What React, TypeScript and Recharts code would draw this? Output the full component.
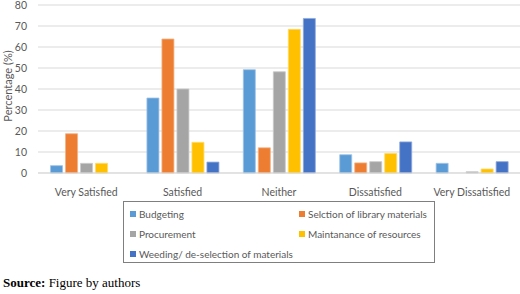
import React from 'react';
import { BarChart, Bar, XAxis, YAxis, CartesianGrid, Legend, Label } from 'recharts';

const categories = ['Very Satisfied', 'Satisfied', 'Neither', 'Dissatisfied', 'Very Dissatisfied'];
const budgeting = [3.5, 35.7, 49.2, 8.7, 4.6];
const selection = [18.7, 63.8, 12.0, 4.8, 0];
const procurement = [4.6, 40.0, 48.2, 5.4, 0.6];
const maintenance = [4.6, 14.6, 68.4, 9.3, 1.9];
const weeding = [0, 5.2, 73.6, 14.8, 5.4];
const yTicks = [0, 10, 20, 30, 40, 50, 60, 70, 80];

const series = [
  { key: 'budgeting', name: 'Budgeting', values: budgeting, color: '#5B9BD5', edge: '#9DC3E6' },
  { key: 'selection', name: 'Selction of library materials', values: selection, color: '#ED7D31', edge: '#F4B183' },
  { key: 'procurement', name: 'Procurement', values: procurement, color: '#A5A5A5', edge: '#C9C9C9' },
  { key: 'maintenance', name: 'Maintanance of resources', values: maintenance, color: '#FFC000', edge: '#FFD966' },
  { key: 'weeding', name: 'Weeding/ de-selection of materials', values: weeding, color: '#4472C4', edge: '#8FAADC' },
];

const data = categories.map((c, i) => {
  const row: Record<string, any> = { category: c };
  series.forEach((s) => { row[s.key] = s.values[i]; });
  return row;
});

const FONT = 'Lato, "Open Sans", sans-serif';

const YTick = (props: any) => {
  const { y, payload } = props;
  return (
    <text x={27} y={y} textAnchor="end" dominantBaseline="central" fontSize={10.5} fill="#595959" fontFamily={FONT}>
      {payload.value}
    </text>
  );
};

const XTick = (props: any) => {
  const { x, y, payload } = props;
  return (
    <text x={x} y={y + 11} textAnchor="middle" dominantBaseline="central" fontSize={10.5} fill="#595959" fontFamily={FONT}>
      {payload.value}
    </text>
  );
};

const LegendBox = () => (
  <div
    style={{
      boxSizing: 'border-box',
      width: '100%',
      height: '100%',
      border: '1px solid #7F7F7F',
      display: 'grid',
      gridTemplateColumns: '169px 1fr',
      gridAutoRows: '20px',
      padding: '2px 0 0 6px',
      fontFamily: FONT,
      fontSize: 10,
      color: '#595959',
      background: '#fff',
    }}
  >
    {series.map((s) => (
      <div key={s.key} style={{ display: 'flex', alignItems: 'center', whiteSpace: 'nowrap' }}>
        <span style={{ display: 'inline-block', width: 6, height: 6, background: s.color, marginRight: 3 }} />
        <span>{s.name}</span>
      </div>
    ))}
  </div>
);

export default function App() {
  return (
    <div style={{ position: 'absolute', left: 0, top: 0, width: 520, height: 294, background: '#fff', overflow: 'hidden' }}>
      <BarChart
        width={520}
        height={270}
        data={data}
        margin={{ top: 5, right: 0, bottom: 70, left: 0 }}
        barCategoryGap="13%"
        barGap={3}
      >
        <CartesianGrid vertical={false} stroke="#D9D9D9" />
        <XAxis
          dataKey="category"
          height={27}
          tickLine={false}
          axisLine={{ stroke: '#D9D9D9' }}
          tick={<XTick />}
          interval={0}
        />
        <YAxis
          width={38}
          domain={[0, 80]}
          ticks={yTicks}
          interval={0}
          tickLine={false}
          axisLine={false}
          tick={<YTick />}
        >
          <Label
            content={() => (
              <text
                transform="translate(7, 86) rotate(-90)"
                textAnchor="middle"
                dominantBaseline="central"
                fontSize={11}
                fill="#595959"
                fontFamily={FONT}
              >
                Percentage (%)
              </text>
            )}
          />
        </YAxis>
        {series.map((s) => (
          <Bar key={s.key} dataKey={s.key} name={s.name} fill={s.color} stroke={s.edge} strokeWidth={0.8} isAnimationActive={false} />
        ))}
        <Legend
          layout="horizontal"
          verticalAlign="middle"
          align="center"
          content={<LegendBox />}
          wrapperStyle={{ top: 201, left: 123, width: 312, height: 62 }}
        />
      </BarChart>
      <div
        style={{
          position: 'absolute',
          left: 3,
          top: 275,
          fontFamily: '"Liberation Serif", "Times New Roman", serif',
          fontSize: 13,
          lineHeight: '16px',
          color: '#000',
          whiteSpace: 'nowrap',
        }}
      >
        <b>Source:</b> Figure by authors
      </div>
    </div>
  );
}
